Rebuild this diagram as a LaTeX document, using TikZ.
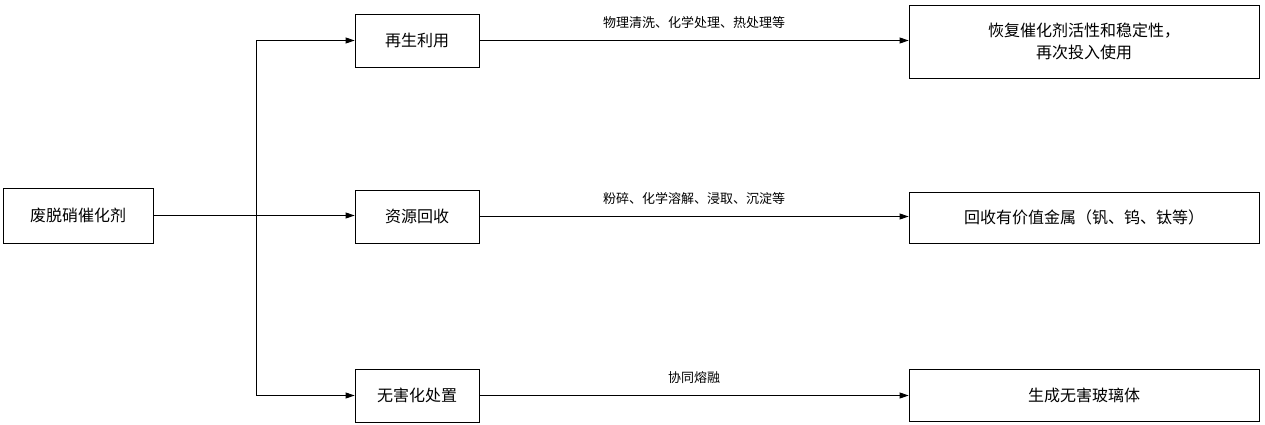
\documentclass[tikz,border=0pt]{standalone}
\usepackage{fontspec}
\newfontfamily\cjk{Noto Sans CJK SC}
\usetikzlibrary{arrows.meta}
\begin{document}
\begin{tikzpicture}[x=1pt,y=-1pt,
  box/.style={draw,line width=0.8pt,inner sep=0pt,font=\cjk\fontsize{16}{22}\selectfont,align=center},
  lbl/.style={font=\cjk\fontsize{13}{16}\selectfont},
  arr/.style={-{Triangle[length=9pt,width=6pt]},line width=0.8pt}]
\useasboundingbox (0,0) rectangle (1265,424);
\node[box,minimum width=150pt,minimum height=55pt] (src) at (78,215.5) {废脱硝催化剂};
\node[box,minimum width=124pt,minimum height=53pt] (a) at (417,40.5) {再生利用};
\node[box,minimum width=124pt,minimum height=53pt] (b) at (417,216.5) {资源回收};
\node[box,minimum width=124pt,minimum height=53pt] (c) at (417,395.5) {无害化处置};
\node[box,minimum width=350pt,minimum height=73pt] (ra) at (1084,41.5) {恢复催化剂活性和稳定性，\\再次投入使用};
\node[box,minimum width=350pt,minimum height=51pt] (rb) at (1084,217.5) {回收有价值金属（钒、钨、钛等）};
\node[box,minimum width=350pt,minimum height=52pt] (rc) at (1084,395) {生成无害玻璃体};
\coordinate (j) at (256,215.5);
\draw[line width=0.8pt] (src.east) -- (j);
\draw[arr] (j) |- (a.west);
\draw[arr] (j) -- (b.west|-j);
\draw[arr] (j) |- (c.west);
\draw[arr] (a.east) -- (ra.west|-a.east) node[lbl,midway,above=8pt] {物理清洗、化学处理、热处理等};
\draw[arr] (b.east) -- (rb.west|-b.east) node[lbl,midway,above=8pt] {粉碎、化学溶解、浸取、沉淀等};
\draw[arr] (c.east) -- (rc.west|-c.east) node[lbl,midway,above=8pt] {协同熔融};
\end{tikzpicture}
\end{document}
